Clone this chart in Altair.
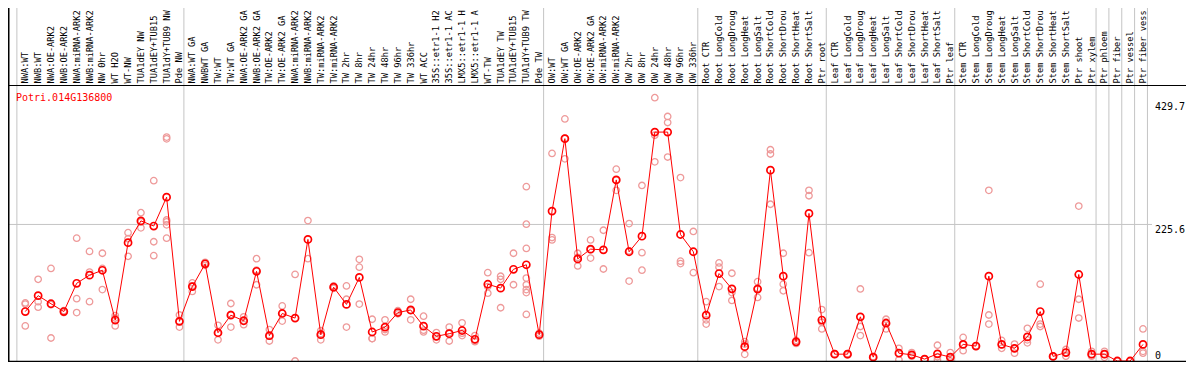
import altair as alt
import pandas as pd

# ---- data -------------------------------------------------------------
gene = "Potri.014G136800"

labels = [
    "NWA:WT", "NWB:WT", "NWA:OE-ARK2", "NWB:OE-ARK2", "NWA:miRNA-ARK2", "NWB:miRNA-ARK2",
    "NW 0hr", "WT H2O", "WT-NW", "TUA1dEY NW", "TUA1dEY+TUB15 NW", "TUA1dY+TUB9 NW", "Pde NW",
    "NWA:WT GA", "NWBWT GA", "TW:WT", "TW:WT GA", "NWA:OE-ARK2 GA", "NWB:OE-ARK2 GA",
    "TW:OE-ARK2", "TW:OE-ARK2 GA", "NWA:miRNA-ARK2 GA", "NWB:miRNA-ARK2 GA", "TW:miRNA-ARK2",
    "TW:miRNA-ARK2 GA", "TW 2hr", "TW 8hr", "TW 24hr", "TW 48hr", "TW 96hr", "TW 336hr",
    "WT ACC", "35S::etr1-1 H2O", "35S::etr1-1 ACC", "LMX5::etr1-1 H2O", "LMX5::etr1-1 ACC",
    "WT-TW", "TUA1dEY TW", "TUA1dEY+TUB15 TW", "TUA1dY+TUB9 TW", "Pde TW",
    "OW:WT", "OW:WT GA", "OW:OE-ARK2", "OW:OE-ARK2 GA", "OW:miRNA-ARK2", "OW:miRNA-ARK2 GA",
    "OW 2hr", "OW 8hr", "OW 24hr", "OW 48hr", "OW 96hr", "OW 336hr",
    "Root CTR", "Root LongCold", "Root LongDrought", "Root LongHeat", "Root LongSalt",
    "Root ShortCold", "Root ShortDrought", "Root ShortHeat", "Root ShortSalt", "Ptr root",
    "Leaf CTR", "Leaf LongCold", "Leaf LongDrought", "Leaf LongHeat", "Leaf LongSalt",
    "Leaf ShortCold", "Leaf ShortDrought", "Leaf ShortHeat", "Leaf ShortSalt", "Ptr leaf",
    "Stem CTR", "Stem LongCold", "Stem LongDrought", "Stem LongHeat", "Stem LongSalt",
    "Stem ShortCold", "Stem ShortDrought", "Stem ShortHeat", "Stem ShortSalt", "Ptr shoot",
    "Ptr xylem", "Ptr phloem", "Ptr fiber", "Ptr vessel", "Ptr fiber vessel",
]

group_sizes = [13, 28, 12, 10, 10, 11, 1, 1, 1, 1]

means = [
    81.7, 108, 94.6, 81.7, 128.4, 141.8, 149.9, 67.7, 195.5, 231.5, 223, 270.7, 65.5,
    122.9, 160.6, 46.7, 75.7, 66.5, 148.2, 41.9, 78.5, 70.9, 200.9, 43.5, 122, 93.5, 138.1,
    47.9, 55.9, 80.1, 84.3, 57.5, 40.8, 45.1, 50.4, 35.9, 126.8, 120.4, 151.5, 159, 43.5,
    247.7, 367.4, 168.7, 184.8, 183.7, 299.2, 180.5, 206.2, 378.2, 378.2, 209, 180.5,
    75.7, 144.5, 119.2, 23.7, 118.8, 315.3, 140.2, 31.7, 243.8, 67.7,
    11.3, 11.3, 73, 6.4, 62.4, 12.9, 10.2, 3.2, 11.8, 6.4,
    27.4, 24.7, 140.2, 27.4, 20.9, 39.8, 81.7, 7.6, 14, 142.9, 11.3,
    11.3, 0, 0, 27.4,
]

replicates = [
    [96, 94, 58], [135, 98, 89], [153, 38, 93], [83, 80, 82], [203, 103, 80],
    [181, 147, 98], [178, 153, 118], [71, 58, 75], [212, 173, 202], [245, 220, 230],
    [298, 197, 174], [370, 367, 233, 230, 225, 203], [76, 56, 65],
    [129, 115, 124], [163, 158, 161], [59, 35, 46], [95, 56, 77], [73, 60, 66],
    [169, 126, 150], [52, 33, 41], [91, 66, 79], [143, 0], [232, 169], [50, 35, 45],
    [124, 120, 122], [124, 102, 56], [168, 155, 94], [69, 37, 37], [68, 48, 52],
    [83, 78, 80], [102, 68, 83], [74, 48, 51], [47, 35, 40], [56, 33, 47], [63, 42, 46],
    [42, 32, 34], [146, 112, 123], [140, 135, 88], [178, 126],
    [288, 226, 186, 137, 126, 118, 113, 77], [46, 41],
    [343, 204, 200], [400, 334, 368], [178, 157, 171], [200, 170, 184], [216, 152],
    [317, 282, 299], [227, 132, 182], [290, 179, 150], [435, 373, 329], [404, 394, 337],
    [303, 165, 161], [214, 146],
    [98, 68, 61], [162, 155, 123], [145, 100, 113], [32, 11, 28], [131, 105, 120],
    [349, 342, 259], [178, 127, 116], [34, 29], [282, 273, 179], [85, 53, 64],
    [11, 12, 11], [11, 10, 12], [119, 42, 57], [6, 7], [69, 53, 64], [21, 2, 13],
    [14, 8, 10], [3, 3], [26, 2, 7], [14, 0, 6],
    [39, 17, 27], [25, 24], [282, 76, 61], [34, 21, 27], [28, 13, 21], [54, 30, 35],
    [127, 61, 57], [8, 7], [19, 8, 14], [256, 102, 71], [16, 8, 11],
    [16, 6, 11], [0, 0], [0, 0], [53, 16, 13],
]

tick_values = [225.6, 429.7]
tick_labels = ["225.6", "429.7"]
zero_label = "0"

# ---- tables -------------------------------------------------------------
idx = list(range(len(labels)))
df_mean = pd.DataFrame({"idx": idx, "mean": means, "label": labels})
rows = [(i, v) for i, reps in enumerate(replicates) for v in reps]
df_rep = pd.DataFrame(rows, columns=["idx", "val"])

starts = [0]
for g in group_sizes:
    starts.append(starts[-1] + g)
df_bound = pd.DataFrame({"b": [s - 0.654 for s in starts]})

df_ticks = pd.DataFrame({"v": tick_values, "t": tick_labels})
df_zero = pd.DataFrame({"v": [0], "t": [zero_label]})
df_grid = pd.DataFrame({"v": [tick_values[0]]})
one = pd.DataFrame({"a": [0]})

W, H = 1178, 354
xs = alt.Scale(domain=[0, 87], range=[17.29, 1135.0], nice=False, zero=False)
ys = alt.Scale(domain=[0, 456], range=[353, 77], nice=False, zero=False)

RED = "#FF0000"
PINK = "#EE9A9A"
GRAY = "#C4C4C4"
MONO = "DejaVu Sans Mono"

vgrid = alt.Chart(df_bound).mark_rule(color=GRAY, strokeWidth=1).encode(
    x=alt.X("b:Q", scale=xs, axis=None), y=alt.value(0), y2=alt.value(H)
)
hgrid = alt.Chart(df_grid).mark_rule(color=GRAY, strokeWidth=1).encode(
    y=alt.Y("v:Q", scale=ys, axis=None), x=alt.value(0), x2=alt.value(1144)
)
left_line = alt.Chart(one).mark_rule(color="black", strokeWidth=1.5).encode(
    x=alt.value(0.75), y=alt.value(0), y2=alt.value(H)
)
top_line = alt.Chart(one).mark_rule(color="black", strokeWidth=1.2).encode(
    y=alt.value(77.5), x=alt.value(0), x2=alt.value(W)
)
bottom_line = alt.Chart(one).mark_rule(color="black", strokeWidth=1.5).encode(
    y=alt.value(353.5), x=alt.value(0), x2=alt.value(W)
)

reps = alt.Chart(df_rep).mark_point(
    shape="circle", filled=False, color=PINK, size=42, strokeWidth=1.3, opacity=1
).encode(
    x=alt.X("idx:Q", scale=xs, axis=None),
    y=alt.Y("val:Q", scale=ys, axis=None),
)
line = alt.Chart(df_mean).mark_line(color=RED, strokeWidth=1).encode(
    x=alt.X("idx:Q", scale=xs, axis=None),
    y=alt.Y("mean:Q", scale=ys, axis=None),
)
mean_pts = alt.Chart(df_mean).mark_point(
    shape="circle", filled=False, color=RED, size=50, strokeWidth=1.7, opacity=1
).encode(
    x=alt.X("idx:Q", scale=xs, axis=None),
    y=alt.Y("mean:Q", scale=ys, axis=None),
)
# the reference shows only the first 14 characters of each column label
label_text = alt.Chart(df_mean).transform_calculate(
    shown="substring(datum.label, 0, 14)"
).mark_text(
    angle=270, align="left", baseline="middle", font=MONO, fontSize=8.7, color="black"
).encode(
    x=alt.X("idx:Q", scale=xs, axis=None),
    y=alt.value(75.5),
    text="shown:N",
)
title_text = alt.Chart(one).mark_text(
    align="left", baseline="top", font=MONO, fontSize=10, color=RED
).encode(x=alt.value(8), y=alt.value(85), text=alt.value(gene))

tick_text = alt.Chart(df_ticks).mark_text(
    align="left", baseline="top", font=MONO, fontSize=10, color="black", dy=1
).encode(
    x=alt.value(1147), y=alt.Y("v:Q", scale=ys, axis=None), text="t:N"
)
zero_text = alt.Chart(df_zero).mark_text(
    align="left", baseline="alphabetic", font=MONO, fontSize=10, color="black", dy=-2
).encode(
    x=alt.value(1147), y=alt.Y("v:Q", scale=ys, axis=None), text="t:N"
)

chart = alt.layer(
    vgrid, hgrid, reps, line, mean_pts, label_text, title_text, tick_text, zero_text,
    left_line, top_line, bottom_line,
).properties(
    width=W, height=H, autosize=alt.AutoSizeParams(type="none"), padding=0
).configure_view(strokeWidth=0)

chart.save("out.html", embed_options={"renderer": "svg", "actions": False})
